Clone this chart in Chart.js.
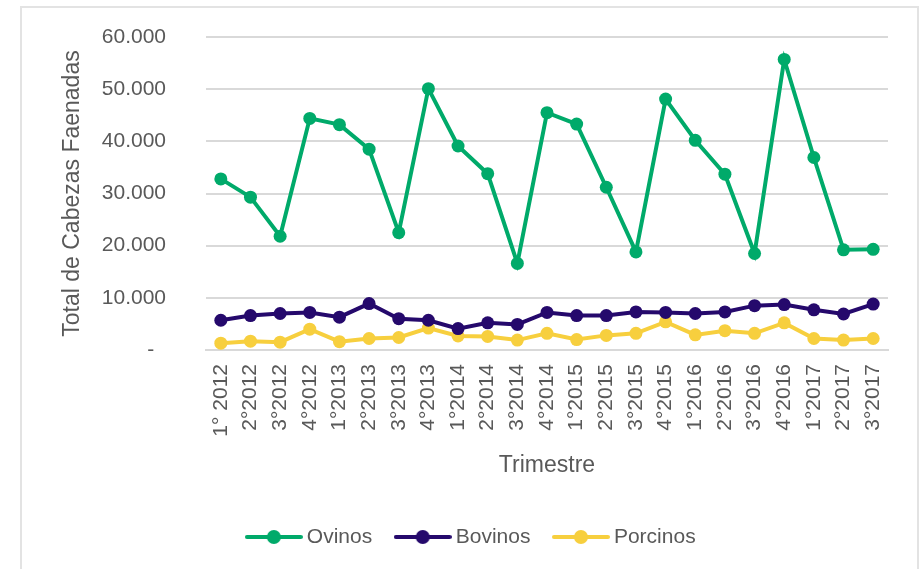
<!DOCTYPE html>
<html>
<head>
<meta charset="utf-8">
<script src="https://cdn.jsdelivr.net/npm/chart.js@4.4.1/dist/chart.umd.min.js"></script>
<style>
    body { margin: 0; background: #fff; }
    #wrap { position: relative; width: 919px; height: 569px; }
    #frame {
        position: absolute; left: 20px; top: 6px; width: 895px; height: 580px;
        border: 2px solid #e3e3e3; pointer-events: none;
    }
</style>
</head>
<body>
<div id="wrap">
    <canvas id="faenaChart" width="919" height="569"></canvas>
    <div id="frame"></div>
</div>
<script>
const trimestres = ['1° 2012', '2°2012', '3°2012', '4°2012', '1°2013', '2°2013', '3°2013', '4°2013',
    '1°2014', '2°2014', '3°2014', '4°2014', '1°2015', '2°2015', '3°2015', '4°2015',
    '1°2016', '2°2016', '3°2016', '4°2016', '1°2017', '2°2017', '3°2017'];

const ovinos = [32800, 29300, 21800, 44400, 43200, 38500, 22500, 50100, 39100, 33800, 16600, 45500,
    43300, 31200, 18800, 48100, 40200, 33700, 18500, 55700, 36900, 19200, 19300];

const bovinos = [5700, 6600, 7000, 7200, 6300, 8900, 6000, 5700, 4100, 5200, 4900, 7200,
    6600, 6600, 7300, 7200, 7000, 7300, 8500, 8700, 7700, 6900, 8800];

const porcinos = [1300, 1700, 1500, 4000, 1600, 2200, 2400, 4200, 2700, 2600, 1900, 3200,
    2000, 2800, 3200, 5400, 2900, 3700, 3200, 5200, 2200, 1900, 2200];

const yTicks = [0, 10000, 20000, 30000, 40000, 50000, 60000];

const FONT = "'Liberation Sans', Arial, sans-serif";
const GREY = '#595959';

// little line + dot picture for the legend, like the Excel one
function legendMark(color) {
    const c = document.createElement('canvas');
    c.width = 58;
    c.height = 16;
    const g = c.getContext('2d');
    g.strokeStyle = color;
    g.lineWidth = 4;
    g.lineCap = 'round';
    g.beginPath();
    g.moveTo(2, 8);
    g.lineTo(56, 8);
    g.stroke();
    g.fillStyle = color;
    g.beginPath();
    g.arc(29, 8, 7, 0, Math.PI * 2);
    g.fill();
    return c;
}

function serie(label, data, color) {
    return {
        label: label,
        data: data,
        borderColor: color,
        backgroundColor: color,
        borderWidth: 4,
        pointRadius: 6.5,
        pointHoverRadius: 6.5,
        pointBorderWidth: 0,
        pointStyle: 'circle',
        legendMark: legendMark(color),
        tension: 0,
        fill: false
    };
}

window.addEventListener('load', function () {
    const ctx = document.getElementById('faenaChart').getContext('2d');

    new Chart(ctx, {
        type: 'line',
        data: {
            labels: trimestres,
            datasets: [
                serie('Ovinos', ovinos, '#00AA6A'),
                serie('Bovinos', bovinos, '#25096C'),
                serie('Porcinos', porcinos, '#F7CF3E')
            ]
        },
        options: {
            responsive: false,
            animation: false,
            layout: {
                padding: { left: 59, right: 31, top: 37, bottom: 11.5 }
            },
            plugins: {
                tooltip: { enabled: false },
                legend: {
                    position: 'bottom',
                    labels: {
                        usePointStyle: true,
                        pointStyleWidth: 45,
                        padding: 28,
                        color: GREY,
                        font: { family: FONT, size: 21 },
                        generateLabels: function (chart) {
                            return chart.data.datasets.map((d, i) => ({
                                text: d.label,
                                pointStyle: d.legendMark,
                                fillStyle: d.borderColor,
                                strokeStyle: d.borderColor,
                                lineWidth: 0,
                                fontColor: GREY,
                                hidden: false,
                                datasetIndex: i
                            }));
                        }
                    }
                }
            },
            scales: {
                x: {
                    offset: true,
                    grid: { display: false, drawTicks: false },
                    border: { display: true, color: '#d9d9d9', width: 2 },
                    ticks: {
                        color: GREY,
                        font: { family: FONT, size: 21 },
                        minRotation: 90,
                        maxRotation: 90,
                        autoSkip: false,
                        padding: 14
                    },
                    title: {
                        display: true,
                        text: 'Trimestre',
                        color: GREY,
                        font: { family: FONT, size: 23 },
                        padding: { top: 0, bottom: 19 }
                    },
                    afterFit: function (scale) { scale.height = 148.5; }
                },
                y: {
                    min: 0,
                    max: 60000,
                    grid: { color: '#d9d9d9', lineWidth: 2, drawTicks: false },
                    border: { display: false },
                    afterBuildTicks: function (scale) {
                        scale.ticks = yTicks.map(v => ({ value: v }));
                    },
                    ticks: {
                        color: GREY,
                        font: { family: FONT, size: 21 },
                        padding: 40,
                        callback: function (v) {
                            if (v === 0) return '-  ';
                            return v.toLocaleString('de-DE');
                        }
                    },
                    title: {
                        display: true,
                        text: 'Total de Cabezas Faenadas',
                        color: GREY,
                        font: { family: FONT, size: 23 },
                        padding: 0
                    },
                    afterFit: function (scale) {
                        scale.width = 147;
                        // the big tick padding should not push the plot down
                        scale.paddingTop = 0;
                        scale.paddingBottom = 0;
                    }
                }
            }
        }
    });
});
</script>
</body>
</html>
